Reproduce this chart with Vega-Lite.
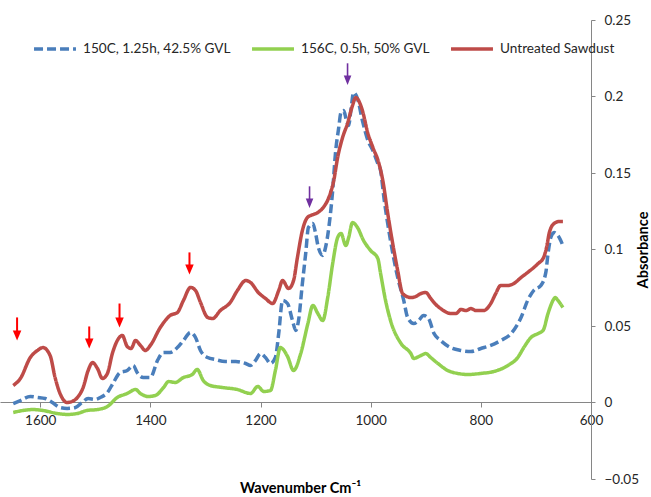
{
  "$schema": "https://vega.github.io/schema/vega-lite/v6.json",
  "width": 591,
  "height": 459,
  "autosize": {"type": "none"},
  "padding": {"left": 0, "top": 20, "right": 60, "bottom": 18},
  "background": "white",
  "config": {"view": {"stroke": null}, "font": "Lato"},
  "layer": [
    {
      "data": {"values": [
        {"series":"150C, 1.25h, 42.5% GVL","wn":1649,"abs":-0.0007},
        {"series":"150C, 1.25h, 42.5% GVL","wn":1636,"abs":0.0013},
        {"series":"150C, 1.25h, 42.5% GVL","wn":1618,"abs":0.0039},
        {"series":"150C, 1.25h, 42.5% GVL","wn":1605,"abs":0.0033},
        {"series":"150C, 1.25h, 42.5% GVL","wn":1591,"abs":0.0026},
        {"series":"150C, 1.25h, 42.5% GVL","wn":1578,"abs":0.0},
        {"series":"150C, 1.25h, 42.5% GVL","wn":1564,"abs":-0.0033},
        {"series":"150C, 1.25h, 42.5% GVL","wn":1551,"abs":-0.0039},
        {"series":"150C, 1.25h, 42.5% GVL","wn":1536,"abs":-0.0033},
        {"series":"150C, 1.25h, 42.5% GVL","wn":1524,"abs":0.0},
        {"series":"150C, 1.25h, 42.5% GVL","wn":1513,"abs":0.0026},
        {"series":"150C, 1.25h, 42.5% GVL","wn":1500,"abs":0.002},
        {"series":"150C, 1.25h, 42.5% GVL","wn":1491,"abs":0.0033},
        {"series":"150C, 1.25h, 42.5% GVL","wn":1478,"abs":0.0065},
        {"series":"150C, 1.25h, 42.5% GVL","wn":1467,"abs":0.0131},
        {"series":"150C, 1.25h, 42.5% GVL","wn":1455,"abs":0.0196},
        {"series":"150C, 1.25h, 42.5% GVL","wn":1442,"abs":0.0209},
        {"series":"150C, 1.25h, 42.5% GVL","wn":1431,"abs":0.0242},
        {"series":"150C, 1.25h, 42.5% GVL","wn":1424,"abs":0.0196},
        {"series":"150C, 1.25h, 42.5% GVL","wn":1413,"abs":0.0163},
        {"series":"150C, 1.25h, 42.5% GVL","wn":1400,"abs":0.0163},
        {"series":"150C, 1.25h, 42.5% GVL","wn":1387,"abs":0.0275},
        {"series":"150C, 1.25h, 42.5% GVL","wn":1376,"abs":0.0327},
        {"series":"150C, 1.25h, 42.5% GVL","wn":1364,"abs":0.0327},
        {"series":"150C, 1.25h, 42.5% GVL","wn":1351,"abs":0.0359},
        {"series":"150C, 1.25h, 42.5% GVL","wn":1340,"abs":0.0405},
        {"series":"150C, 1.25h, 42.5% GVL","wn":1327,"abs":0.0458},
        {"series":"150C, 1.25h, 42.5% GVL","wn":1318,"abs":0.0425},
        {"series":"150C, 1.25h, 42.5% GVL","wn":1309,"abs":0.034},
        {"series":"150C, 1.25h, 42.5% GVL","wn":1296,"abs":0.0294},
        {"series":"150C, 1.25h, 42.5% GVL","wn":1282,"abs":0.0281},
        {"series":"150C, 1.25h, 42.5% GVL","wn":1264,"abs":0.0268},
        {"series":"150C, 1.25h, 42.5% GVL","wn":1245,"abs":0.0268},
        {"series":"150C, 1.25h, 42.5% GVL","wn":1227,"abs":0.0255},
        {"series":"150C, 1.25h, 42.5% GVL","wn":1218,"abs":0.0242},
        {"series":"150C, 1.25h, 42.5% GVL","wn":1209,"abs":0.0275},
        {"series":"150C, 1.25h, 42.5% GVL","wn":1200,"abs":0.032},
        {"series":"150C, 1.25h, 42.5% GVL","wn":1191,"abs":0.0294},
        {"series":"150C, 1.25h, 42.5% GVL","wn":1182,"abs":0.0255},
        {"series":"150C, 1.25h, 42.5% GVL","wn":1173,"abs":0.0294},
        {"series":"150C, 1.25h, 42.5% GVL","wn":1167,"abs":0.0451},
        {"series":"150C, 1.25h, 42.5% GVL","wn":1160,"abs":0.0667},
        {"series":"150C, 1.25h, 42.5% GVL","wn":1151,"abs":0.0647},
        {"series":"150C, 1.25h, 42.5% GVL","wn":1142,"abs":0.0536},
        {"series":"150C, 1.25h, 42.5% GVL","wn":1136,"abs":0.0471},
        {"series":"150C, 1.25h, 42.5% GVL","wn":1131,"abs":0.0536},
        {"series":"150C, 1.25h, 42.5% GVL","wn":1124,"abs":0.0778},
        {"series":"150C, 1.25h, 42.5% GVL","wn":1118,"abs":0.0974},
        {"series":"150C, 1.25h, 42.5% GVL","wn":1113,"abs":0.1144},
        {"series":"150C, 1.25h, 42.5% GVL","wn":1105,"abs":0.117},
        {"series":"150C, 1.25h, 42.5% GVL","wn":1100,"abs":0.1105},
        {"series":"150C, 1.25h, 42.5% GVL","wn":1095,"abs":0.1013},
        {"series":"150C, 1.25h, 42.5% GVL","wn":1087,"abs":0.0961},
        {"series":"150C, 1.25h, 42.5% GVL","wn":1082,"abs":0.1013},
        {"series":"150C, 1.25h, 42.5% GVL","wn":1076,"abs":0.1144},
        {"series":"150C, 1.25h, 42.5% GVL","wn":1069,"abs":0.1386},
        {"series":"150C, 1.25h, 42.5% GVL","wn":1064,"abs":0.1627},
        {"series":"150C, 1.25h, 42.5% GVL","wn":1058,"abs":0.1797},
        {"series":"150C, 1.25h, 42.5% GVL","wn":1054,"abs":0.1895},
        {"series":"150C, 1.25h, 42.5% GVL","wn":1049,"abs":0.1908},
        {"series":"150C, 1.25h, 42.5% GVL","wn":1044,"abs":0.1843},
        {"series":"150C, 1.25h, 42.5% GVL","wn":1040,"abs":0.181},
        {"series":"150C, 1.25h, 42.5% GVL","wn":1036,"abs":0.1908},
        {"series":"150C, 1.25h, 42.5% GVL","wn":1031,"abs":0.2026},
        {"series":"150C, 1.25h, 42.5% GVL","wn":1024,"abs":0.1987},
        {"series":"150C, 1.25h, 42.5% GVL","wn":1015,"abs":0.1843},
        {"series":"150C, 1.25h, 42.5% GVL","wn":1005,"abs":0.1712},
        {"series":"150C, 1.25h, 42.5% GVL","wn":996,"abs":0.1647},
        {"series":"150C, 1.25h, 42.5% GVL","wn":987,"abs":0.1562},
        {"series":"150C, 1.25h, 42.5% GVL","wn":982,"abs":0.1516},
        {"series":"150C, 1.25h, 42.5% GVL","wn":976,"abs":0.134},
        {"series":"150C, 1.25h, 42.5% GVL","wn":964,"abs":0.1059},
        {"series":"150C, 1.25h, 42.5% GVL","wn":951,"abs":0.0817},
        {"series":"150C, 1.25h, 42.5% GVL","wn":940,"abs":0.0667},
        {"series":"150C, 1.25h, 42.5% GVL","wn":933,"abs":0.0556},
        {"series":"150C, 1.25h, 42.5% GVL","wn":922,"abs":0.0516},
        {"series":"150C, 1.25h, 42.5% GVL","wn":913,"abs":0.0536},
        {"series":"150C, 1.25h, 42.5% GVL","wn":904,"abs":0.0569},
        {"series":"150C, 1.25h, 42.5% GVL","wn":895,"abs":0.0549},
        {"series":"150C, 1.25h, 42.5% GVL","wn":885,"abs":0.0451},
        {"series":"150C, 1.25h, 42.5% GVL","wn":873,"abs":0.0405},
        {"series":"150C, 1.25h, 42.5% GVL","wn":855,"abs":0.0359},
        {"series":"150C, 1.25h, 42.5% GVL","wn":836,"abs":0.034},
        {"series":"150C, 1.25h, 42.5% GVL","wn":818,"abs":0.0333},
        {"series":"150C, 1.25h, 42.5% GVL","wn":800,"abs":0.0353},
        {"series":"150C, 1.25h, 42.5% GVL","wn":782,"abs":0.0373},
        {"series":"150C, 1.25h, 42.5% GVL","wn":764,"abs":0.0405},
        {"series":"150C, 1.25h, 42.5% GVL","wn":745,"abs":0.0451},
        {"series":"150C, 1.25h, 42.5% GVL","wn":727,"abs":0.0556},
        {"series":"150C, 1.25h, 42.5% GVL","wn":715,"abs":0.0667},
        {"series":"150C, 1.25h, 42.5% GVL","wn":704,"abs":0.0732},
        {"series":"150C, 1.25h, 42.5% GVL","wn":691,"abs":0.0765},
        {"series":"150C, 1.25h, 42.5% GVL","wn":682,"abs":0.085},
        {"series":"150C, 1.25h, 42.5% GVL","wn":678,"abs":0.0974},
        {"series":"150C, 1.25h, 42.5% GVL","wn":673,"abs":0.1078},
        {"series":"150C, 1.25h, 42.5% GVL","wn":667,"abs":0.1111},
        {"series":"150C, 1.25h, 42.5% GVL","wn":660,"abs":0.1092},
        {"series":"150C, 1.25h, 42.5% GVL","wn":651,"abs":0.1026},

        {"series":"156C, 0.5h, 50% GVL","wn":1649,"abs":-0.0065},
        {"series":"156C, 0.5h, 50% GVL","wn":1613,"abs":-0.0046},
        {"series":"156C, 0.5h, 50% GVL","wn":1595,"abs":-0.0052},
        {"series":"156C, 0.5h, 50% GVL","wn":1569,"abs":-0.0072},
        {"series":"156C, 0.5h, 50% GVL","wn":1551,"abs":-0.0078},
        {"series":"156C, 0.5h, 50% GVL","wn":1533,"abs":-0.0072},
        {"series":"156C, 0.5h, 50% GVL","wn":1515,"abs":-0.0052},
        {"series":"156C, 0.5h, 50% GVL","wn":1496,"abs":-0.0046},
        {"series":"156C, 0.5h, 50% GVL","wn":1478,"abs":-0.0026},
        {"series":"156C, 0.5h, 50% GVL","wn":1460,"abs":0.0033},
        {"series":"156C, 0.5h, 50% GVL","wn":1442,"abs":0.0059},
        {"series":"156C, 0.5h, 50% GVL","wn":1427,"abs":0.0085},
        {"series":"156C, 0.5h, 50% GVL","wn":1418,"abs":0.0059},
        {"series":"156C, 0.5h, 50% GVL","wn":1404,"abs":0.0039},
        {"series":"156C, 0.5h, 50% GVL","wn":1391,"abs":0.0046},
        {"series":"156C, 0.5h, 50% GVL","wn":1376,"abs":0.0098},
        {"series":"156C, 0.5h, 50% GVL","wn":1367,"abs":0.0137},
        {"series":"156C, 0.5h, 50% GVL","wn":1355,"abs":0.0131},
        {"series":"156C, 0.5h, 50% GVL","wn":1340,"abs":0.0163},
        {"series":"156C, 0.5h, 50% GVL","wn":1324,"abs":0.0183},
        {"series":"156C, 0.5h, 50% GVL","wn":1315,"abs":0.0216},
        {"series":"156C, 0.5h, 50% GVL","wn":1304,"abs":0.0144},
        {"series":"156C, 0.5h, 50% GVL","wn":1291,"abs":0.0111},
        {"series":"156C, 0.5h, 50% GVL","wn":1269,"abs":0.0098},
        {"series":"156C, 0.5h, 50% GVL","wn":1242,"abs":0.0085},
        {"series":"156C, 0.5h, 50% GVL","wn":1218,"abs":0.0059},
        {"series":"156C, 0.5h, 50% GVL","wn":1205,"abs":0.0105},
        {"series":"156C, 0.5h, 50% GVL","wn":1194,"abs":0.0072},
        {"series":"156C, 0.5h, 50% GVL","wn":1182,"abs":0.0078},
        {"series":"156C, 0.5h, 50% GVL","wn":1173,"abs":0.0209},
        {"series":"156C, 0.5h, 50% GVL","wn":1164,"abs":0.0359},
        {"series":"156C, 0.5h, 50% GVL","wn":1151,"abs":0.0301},
        {"series":"156C, 0.5h, 50% GVL","wn":1140,"abs":0.0209},
        {"series":"156C, 0.5h, 50% GVL","wn":1127,"abs":0.032},
        {"series":"156C, 0.5h, 50% GVL","wn":1114,"abs":0.0516},
        {"series":"156C, 0.5h, 50% GVL","wn":1105,"abs":0.0634},
        {"series":"156C, 0.5h, 50% GVL","wn":1096,"abs":0.0582},
        {"series":"156C, 0.5h, 50% GVL","wn":1087,"abs":0.0536},
        {"series":"156C, 0.5h, 50% GVL","wn":1078,"abs":0.0686},
        {"series":"156C, 0.5h, 50% GVL","wn":1069,"abs":0.0908},
        {"series":"156C, 0.5h, 50% GVL","wn":1060,"abs":0.1078},
        {"series":"156C, 0.5h, 50% GVL","wn":1054,"abs":0.1105},
        {"series":"156C, 0.5h, 50% GVL","wn":1045,"abs":0.1026},
        {"series":"156C, 0.5h, 50% GVL","wn":1040,"abs":0.1078},
        {"series":"156C, 0.5h, 50% GVL","wn":1033,"abs":0.1176},
        {"series":"156C, 0.5h, 50% GVL","wn":1024,"abs":0.1144},
        {"series":"156C, 0.5h, 50% GVL","wn":1013,"abs":0.1059},
        {"series":"156C, 0.5h, 50% GVL","wn":1000,"abs":0.0993},
        {"series":"156C, 0.5h, 50% GVL","wn":987,"abs":0.0941},
        {"series":"156C, 0.5h, 50% GVL","wn":982,"abs":0.0843},
        {"series":"156C, 0.5h, 50% GVL","wn":973,"abs":0.0667},
        {"series":"156C, 0.5h, 50% GVL","wn":964,"abs":0.0536},
        {"series":"156C, 0.5h, 50% GVL","wn":945,"abs":0.0386},
        {"series":"156C, 0.5h, 50% GVL","wn":927,"abs":0.032},
        {"series":"156C, 0.5h, 50% GVL","wn":922,"abs":0.0288},
        {"series":"156C, 0.5h, 50% GVL","wn":909,"abs":0.0307},
        {"series":"156C, 0.5h, 50% GVL","wn":900,"abs":0.032},
        {"series":"156C, 0.5h, 50% GVL","wn":891,"abs":0.0294},
        {"series":"156C, 0.5h, 50% GVL","wn":878,"abs":0.0255},
        {"series":"156C, 0.5h, 50% GVL","wn":860,"abs":0.0209},
        {"series":"156C, 0.5h, 50% GVL","wn":842,"abs":0.019},
        {"series":"156C, 0.5h, 50% GVL","wn":824,"abs":0.0183},
        {"series":"156C, 0.5h, 50% GVL","wn":800,"abs":0.019},
        {"series":"156C, 0.5h, 50% GVL","wn":776,"abs":0.0203},
        {"series":"156C, 0.5h, 50% GVL","wn":751,"abs":0.0242},
        {"series":"156C, 0.5h, 50% GVL","wn":733,"abs":0.0294},
        {"series":"156C, 0.5h, 50% GVL","wn":722,"abs":0.0359},
        {"series":"156C, 0.5h, 50% GVL","wn":709,"abs":0.0425},
        {"series":"156C, 0.5h, 50% GVL","wn":696,"abs":0.0451},
        {"series":"156C, 0.5h, 50% GVL","wn":687,"abs":0.0471},
        {"series":"156C, 0.5h, 50% GVL","wn":678,"abs":0.0582},
        {"series":"156C, 0.5h, 50% GVL","wn":669,"abs":0.0667},
        {"series":"156C, 0.5h, 50% GVL","wn":665,"abs":0.0686},
        {"series":"156C, 0.5h, 50% GVL","wn":660,"abs":0.0667},
        {"series":"156C, 0.5h, 50% GVL","wn":651,"abs":0.0621},

        {"series":"Untreated Sawdust","wn":1649,"abs":0.0111},
        {"series":"Untreated Sawdust","wn":1636,"abs":0.0157},
        {"series":"Untreated Sawdust","wn":1618,"abs":0.0294},
        {"series":"Untreated Sawdust","wn":1605,"abs":0.034},
        {"series":"Untreated Sawdust","wn":1595,"abs":0.0359},
        {"series":"Untreated Sawdust","wn":1582,"abs":0.0307},
        {"series":"Untreated Sawdust","wn":1573,"abs":0.0163},
        {"series":"Untreated Sawdust","wn":1564,"abs":0.0059},
        {"series":"Untreated Sawdust","wn":1551,"abs":0.0},
        {"series":"Untreated Sawdust","wn":1542,"abs":0.0007},
        {"series":"Untreated Sawdust","wn":1531,"abs":0.0039},
        {"series":"Untreated Sawdust","wn":1522,"abs":0.0098},
        {"series":"Untreated Sawdust","wn":1513,"abs":0.0209},
        {"series":"Untreated Sawdust","wn":1505,"abs":0.0261},
        {"series":"Untreated Sawdust","wn":1496,"abs":0.0222},
        {"series":"Untreated Sawdust","wn":1487,"abs":0.0157},
        {"series":"Untreated Sawdust","wn":1478,"abs":0.019},
        {"series":"Untreated Sawdust","wn":1469,"abs":0.032},
        {"series":"Untreated Sawdust","wn":1460,"abs":0.0405},
        {"series":"Untreated Sawdust","wn":1451,"abs":0.0438},
        {"series":"Untreated Sawdust","wn":1442,"abs":0.0366},
        {"series":"Untreated Sawdust","wn":1435,"abs":0.0353},
        {"series":"Untreated Sawdust","wn":1427,"abs":0.0405},
        {"series":"Untreated Sawdust","wn":1418,"abs":0.0373},
        {"series":"Untreated Sawdust","wn":1409,"abs":0.034},
        {"series":"Untreated Sawdust","wn":1400,"abs":0.0373},
        {"series":"Untreated Sawdust","wn":1382,"abs":0.049},
        {"series":"Untreated Sawdust","wn":1364,"abs":0.0569},
        {"series":"Untreated Sawdust","wn":1351,"abs":0.0588},
        {"series":"Untreated Sawdust","wn":1340,"abs":0.0667},
        {"series":"Untreated Sawdust","wn":1327,"abs":0.0752},
        {"series":"Untreated Sawdust","wn":1318,"abs":0.0732},
        {"series":"Untreated Sawdust","wn":1309,"abs":0.0654},
        {"series":"Untreated Sawdust","wn":1296,"abs":0.0556},
        {"series":"Untreated Sawdust","wn":1287,"abs":0.0549},
        {"series":"Untreated Sawdust","wn":1273,"abs":0.0601},
        {"series":"Untreated Sawdust","wn":1255,"abs":0.0654},
        {"series":"Untreated Sawdust","wn":1242,"abs":0.0732},
        {"series":"Untreated Sawdust","wn":1227,"abs":0.0797},
        {"series":"Untreated Sawdust","wn":1218,"abs":0.0784},
        {"series":"Untreated Sawdust","wn":1204,"abs":0.0719},
        {"series":"Untreated Sawdust","wn":1191,"abs":0.068},
        {"series":"Untreated Sawdust","wn":1178,"abs":0.0647},
        {"series":"Untreated Sawdust","wn":1167,"abs":0.0732},
        {"series":"Untreated Sawdust","wn":1160,"abs":0.0797},
        {"series":"Untreated Sawdust","wn":1149,"abs":0.0745},
        {"series":"Untreated Sawdust","wn":1140,"abs":0.0797},
        {"series":"Untreated Sawdust","wn":1133,"abs":0.0948},
        {"series":"Untreated Sawdust","wn":1124,"abs":0.1124},
        {"series":"Untreated Sawdust","wn":1115,"abs":0.1209},
        {"series":"Untreated Sawdust","wn":1109,"abs":0.1222},
        {"series":"Untreated Sawdust","wn":1096,"abs":0.1242},
        {"series":"Untreated Sawdust","wn":1086,"abs":0.1275},
        {"series":"Untreated Sawdust","wn":1076,"abs":0.134},
        {"series":"Untreated Sawdust","wn":1067,"abs":0.1451},
        {"series":"Untreated Sawdust","wn":1060,"abs":0.1601},
        {"series":"Untreated Sawdust","wn":1051,"abs":0.1732},
        {"series":"Untreated Sawdust","wn":1042,"abs":0.1824},
        {"series":"Untreated Sawdust","wn":1033,"abs":0.1941},
        {"series":"Untreated Sawdust","wn":1027,"abs":0.1993},
        {"series":"Untreated Sawdust","wn":1022,"abs":0.1974},
        {"series":"Untreated Sawdust","wn":1015,"abs":0.1908},
        {"series":"Untreated Sawdust","wn":1005,"abs":0.1758},
        {"series":"Untreated Sawdust","wn":996,"abs":0.1667},
        {"series":"Untreated Sawdust","wn":985,"abs":0.1562},
        {"series":"Untreated Sawdust","wn":978,"abs":0.1451},
        {"series":"Untreated Sawdust","wn":969,"abs":0.1235},
        {"series":"Untreated Sawdust","wn":960,"abs":0.1039},
        {"series":"Untreated Sawdust","wn":951,"abs":0.0863},
        {"series":"Untreated Sawdust","wn":942,"abs":0.0712},
        {"series":"Untreated Sawdust","wn":927,"abs":0.0686},
        {"series":"Untreated Sawdust","wn":918,"abs":0.0693},
        {"series":"Untreated Sawdust","wn":909,"abs":0.0712},
        {"series":"Untreated Sawdust","wn":900,"abs":0.0719},
        {"series":"Untreated Sawdust","wn":891,"abs":0.068},
        {"series":"Untreated Sawdust","wn":882,"abs":0.0641},
        {"series":"Untreated Sawdust","wn":873,"abs":0.0614},
        {"series":"Untreated Sawdust","wn":855,"abs":0.0582},
        {"series":"Untreated Sawdust","wn":845,"abs":0.0582},
        {"series":"Untreated Sawdust","wn":836,"abs":0.0608},
        {"series":"Untreated Sawdust","wn":827,"abs":0.0601},
        {"series":"Untreated Sawdust","wn":818,"abs":0.0614},
        {"series":"Untreated Sawdust","wn":809,"abs":0.0601},
        {"series":"Untreated Sawdust","wn":795,"abs":0.0601},
        {"series":"Untreated Sawdust","wn":782,"abs":0.0647},
        {"series":"Untreated Sawdust","wn":773,"abs":0.0712},
        {"series":"Untreated Sawdust","wn":764,"abs":0.0765},
        {"series":"Untreated Sawdust","wn":751,"abs":0.0765},
        {"series":"Untreated Sawdust","wn":740,"abs":0.0778},
        {"series":"Untreated Sawdust","wn":727,"abs":0.0817},
        {"series":"Untreated Sawdust","wn":715,"abs":0.085},
        {"series":"Untreated Sawdust","wn":704,"abs":0.0882},
        {"series":"Untreated Sawdust","wn":696,"abs":0.0908},
        {"series":"Untreated Sawdust","wn":686,"abs":0.0948},
        {"series":"Untreated Sawdust","wn":680,"abs":0.1026},
        {"series":"Untreated Sawdust","wn":676,"abs":0.1105},
        {"series":"Untreated Sawdust","wn":667,"abs":0.117},
        {"series":"Untreated Sawdust","wn":658,"abs":0.1183},
        {"series":"Untreated Sawdust","wn":651,"abs":0.1183}
      ]},
      "mark": {"type": "line", "strokeWidth": 3.5, "interpolate": "monotone"},
      "encoding": {
        "x": {
          "field": "wn", "type": "quantitative",
          "scale": {"domain": [600, 1673], "reverse": true, "nice": false, "zero": false},
          "axis": {
            "title": "Wavenumber Cm⁻¹",
            "values": [600, 800, 1000, 1200, 1400, 1600],
            "format": "d",
            "offset": -77,
            "grid": false,
            "domainColor": "#868686",
            "tickColor": "#868686",
            "tickSize": 5,
            "labelFont": "Lato",
            "labelFontSize": 13.5,
            "labelColor": "#262626",
            "labelPadding": 6,
            "labelFlush": false,
            "titleFont": "Lato",
            "titleFontSize": 14.5,
            "titleFontWeight": "bold",
            "titleColor": "#000000",
            "titleX": 300,
            "titleY": 79
          }
        },
        "y": {
          "field": "abs", "type": "quantitative",
          "scale": {"domain": [-0.05, 0.25], "nice": false, "zero": false},
          "axis": {
            "orient": "right",
            "title": "Absorbance",
            "values": [-0.05, 0, 0.05, 0.1, 0.15, 0.2, 0.25],
            "format": "~g",
            "grid": false,
            "domainColor": "#868686",
            "tickColor": "#868686",
            "tickSize": 4,
            "labelPadding": 9,
            "labelFont": "Lato",
            "labelFontSize": 13.5,
            "labelColor": "#262626",
            "titleFont": "Lato",
            "titleFontSize": 14.5,
            "titleFontWeight": "bold",
            "titleColor": "#000000",
            "titleAngle": 270,
            "titlePadding": 12
          }
        },
        "color": {
          "field": "series", "type": "nominal",
          "scale": {"domain": ["150C, 1.25h, 42.5% GVL", "156C, 0.5h, 50% GVL", "Untreated Sawdust"], "range": ["#4A7EBB", "#92D050", "#BE4B48"]},
          "legend": {"title": null, "orient": "none", "legendX": 32, "legendY": 6, "direction": "horizontal", "symbolType": "stroke", "symbolSize": 1760, "symbolStrokeWidth": 3.5, "labelFont": "Lato", "labelFontSize": 13.6, "labelColor": "#262626", "columnPadding": 14, "labelOffset": 5}
        },
        "strokeDash": {
          "field": "series", "type": "nominal",
          "scale": {"domain": ["150C, 1.25h, 42.5% GVL", "156C, 0.5h, 50% GVL", "Untreated Sawdust"], "range": [[9, 4], [1, 0], [1, 0]]},
          "legend": {"title": null, "orient": "none", "legendX": 32, "legendY": 6, "direction": "horizontal", "symbolType": "stroke", "symbolSize": 1760, "symbolStrokeWidth": 3.5, "labelFont": "Lato", "labelFontSize": 13.6, "labelColor": "#262626", "columnPadding": 14, "labelOffset": 5}
        }
      }
    },
    {
      "data": {"values": [
        {"wn": 1642, "top": 0.0556, "head": 0.0438},
        {"wn": 1511, "top": 0.0497, "head": 0.0386},
        {"wn": 1456, "top": 0.0647, "head": 0.0523},
        {"wn": 1329, "top": 0.0981, "head": 0.087}
      ]},
      "mark": {"type": "rule", "color": "#FF0000", "strokeWidth": 2},
      "encoding": {
        "x": {"field": "wn", "type": "quantitative"},
        "y": {"field": "top", "type": "quantitative"},
        "y2": {"field": "head"}
      }
    },
    {
      "data": {"values": [
        {"wn": 1642, "head": 0.0438},
        {"wn": 1511, "head": 0.0386},
        {"wn": 1456, "head": 0.0523},
        {"wn": 1329, "head": 0.087}
      ]},
      "mark": {"type": "point", "shape": "M-0.85,-1L0.85,-1L0,1Z", "size": 100, "filled": true, "color": "#FF0000", "opacity": 1},
      "encoding": {
        "x": {"field": "wn", "type": "quantitative"},
        "y": {"field": "head", "type": "quantitative"}
      }
    },
    {
      "data": {"values": [
        {"wn": 1042, "top": 0.2217, "head": 0.2106},
        {"wn": 1111, "top": 0.1413, "head": 0.1302}
      ]},
      "mark": {"type": "rule", "color": "#7030A0", "strokeWidth": 1.6},
      "encoding": {
        "x": {"field": "wn", "type": "quantitative"},
        "y": {"field": "top", "type": "quantitative"},
        "y2": {"field": "head"}
      }
    },
    {
      "data": {"values": [
        {"wn": 1042, "head": 0.2106},
        {"wn": 1111, "head": 0.1302}
      ]},
      "mark": {"type": "point", "shape": "M-0.8,-1L0.8,-1L0,1Z", "size": 90, "filled": true, "color": "#7030A0", "opacity": 1},
      "encoding": {
        "x": {"field": "wn", "type": "quantitative"},
        "y": {"field": "head", "type": "quantitative"}
      }
    }
  ]
}
